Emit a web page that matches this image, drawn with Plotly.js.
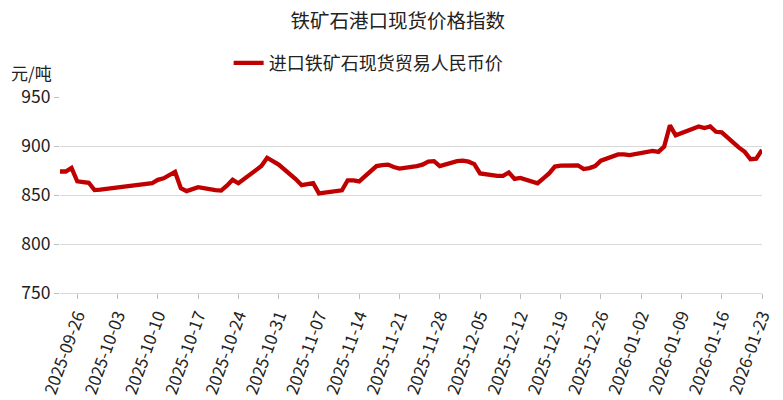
<!DOCTYPE html>
<html>
<head>
<meta charset="utf-8">
<script src="https://cdn.plot.ly/plotly-3.0.1.min.js"></script>
<style>html,body{margin:0;padding:0;background:#fff}#chart{width:783px;height:400px}</style>
</head>
<body>
<div id="chart"></div>
<script>
const chartTitle = "铁矿石港口现货价格指数";
const seriesName = "进口铁矿石现货贸易人民币价";
const unitLabel = "元/吨";

const dates = [
  "2025-09-23","2025-09-24","2025-09-25","2025-09-26","2025-09-28","2025-09-29","2025-09-30",
  "2025-10-09","2025-10-10","2025-10-11","2025-10-13","2025-10-14","2025-10-15","2025-10-16","2025-10-17",
  "2025-10-20","2025-10-21","2025-10-22","2025-10-23","2025-10-24",
  "2025-10-27","2025-10-28","2025-10-29","2025-10-30","2025-10-31",
  "2025-11-03","2025-11-04","2025-11-05","2025-11-06","2025-11-07",
  "2025-11-10","2025-11-11","2025-11-12","2025-11-13","2025-11-14",
  "2025-11-17","2025-11-18","2025-11-19","2025-11-20","2025-11-21",
  "2025-11-24","2025-11-25","2025-11-26","2025-11-27","2025-11-28",
  "2025-12-01","2025-12-02","2025-12-03","2025-12-04","2025-12-05",
  "2025-12-08","2025-12-09","2025-12-10","2025-12-11","2025-12-12",
  "2025-12-15","2025-12-16","2025-12-17","2025-12-18","2025-12-19",
  "2025-12-22","2025-12-23","2025-12-24","2025-12-25","2025-12-26",
  "2025-12-29","2025-12-30","2025-12-31",
  "2026-01-04","2026-01-05","2026-01-06","2026-01-07","2026-01-08","2026-01-09",
  "2026-01-12","2026-01-13","2026-01-14","2026-01-15","2026-01-16",
  "2026-01-19","2026-01-20","2026-01-21","2026-01-22","2026-01-23"
];
const prices = [
  874, 874, 877.6, 864, 862.5, 855, 855.5,
  862, 865.5, 867, 873.5, 857, 854, 856.5, 858,
  855, 854.5, 859.5, 865.5, 862,
  876, 879.5, 888, 884.6, 881,
  866, 860, 861, 862, 851.7,
  854.5, 854.8, 865, 865, 863.8,
  879.5, 880.5, 881, 878.5, 877,
  879.5, 881, 884, 884.5, 879.5,
  884.5, 885, 884, 881.5, 872,
  869.5, 869.5, 873, 866.5, 867.5,
  862, 867, 872, 879, 880,
  880.3, 876.5, 877.5, 879.5, 885,
  891.4, 891.5, 890.7,
  895, 894, 899.5, 921, 911, 913,
  920, 918.3, 920, 914.5, 914,
  898.3, 894, 886.5, 887, 896
];

const xTickVals = [
  "2025-09-26","2025-10-03","2025-10-10","2025-10-17","2025-10-24","2025-10-31",
  "2025-11-07","2025-11-14","2025-11-21","2025-11-28","2025-12-05","2025-12-12",
  "2025-12-19","2025-12-26","2026-01-02","2026-01-09","2026-01-16","2026-01-23"
];
const yTickVals = [750, 800, 850, 900, 950];

const font = "'Noto Sans CJK SC', 'Noto Sans', sans-serif";

const trace = {
  x: dates,
  y: prices,
  type: "scatter",
  mode: "lines",
  name: seriesName,
  line: {color: "#C00000", width: 4.3}
};

const layout = {
  width: 783,
  height: 400,
  margin: {l: 60, r: 21, t: 97, b: 107},
  paper_bgcolor: "#ffffff",
  plot_bgcolor: "#ffffff",
  font: {family: font, color: "#222222", size: 17},
  title: {text: chartTitle, x: 0.508, xanchor: "center", y: 0.948, yanchor: "middle",
          font: {family: font, size: 19.5, color: "#222222"}},
  showlegend: true,
  legend: {orientation: "h", xref: "container", yref: "container",
           x: 0.292, xanchor: "left", y: 0.842, yanchor: "middle",
           font: {family: font, size: 18, color: "#222222"}, bgcolor: "rgba(0,0,0,0)"},
  xaxis: {
    type: "date",
    range: ["2025-09-23", "2026-01-23"],
    tickvals: xTickVals,
    ticktext: xTickVals,
    tickangle: -70,
    tickfont: {family: font, size: 17, color: "#222222"},
    showgrid: false,
    showline: true,
    linecolor: "#d9d9d9",
    linewidth: 1,
    ticks: "outside",
    ticklen: 5,
    tickcolor: "#bfbfbf",
    zeroline: false
  },
  yaxis: {
    range: [750, 950],
    tickvals: yTickVals,
    tickfont: {family: font, size: 17.5, color: "#222222"},
    showgrid: true,
    gridcolor: "#d9d9d9",
    showline: false,
    ticks: "outside",
    ticklen: 5,
    tickcolor: "#bfbfbf",
    zeroline: false
  },
  annotations: [{
    text: unitLabel, xref: "paper", yref: "paper",
    x: -0.072, xanchor: "left", y: 1.126, yanchor: "middle",
    showarrow: false, font: {family: font, size: 17, color: "#222222"}
  }]
};

Plotly.newPlot("chart", [trace], layout, {displayModeBar: false, staticPlot: true});
</script>
</body>
</html>
